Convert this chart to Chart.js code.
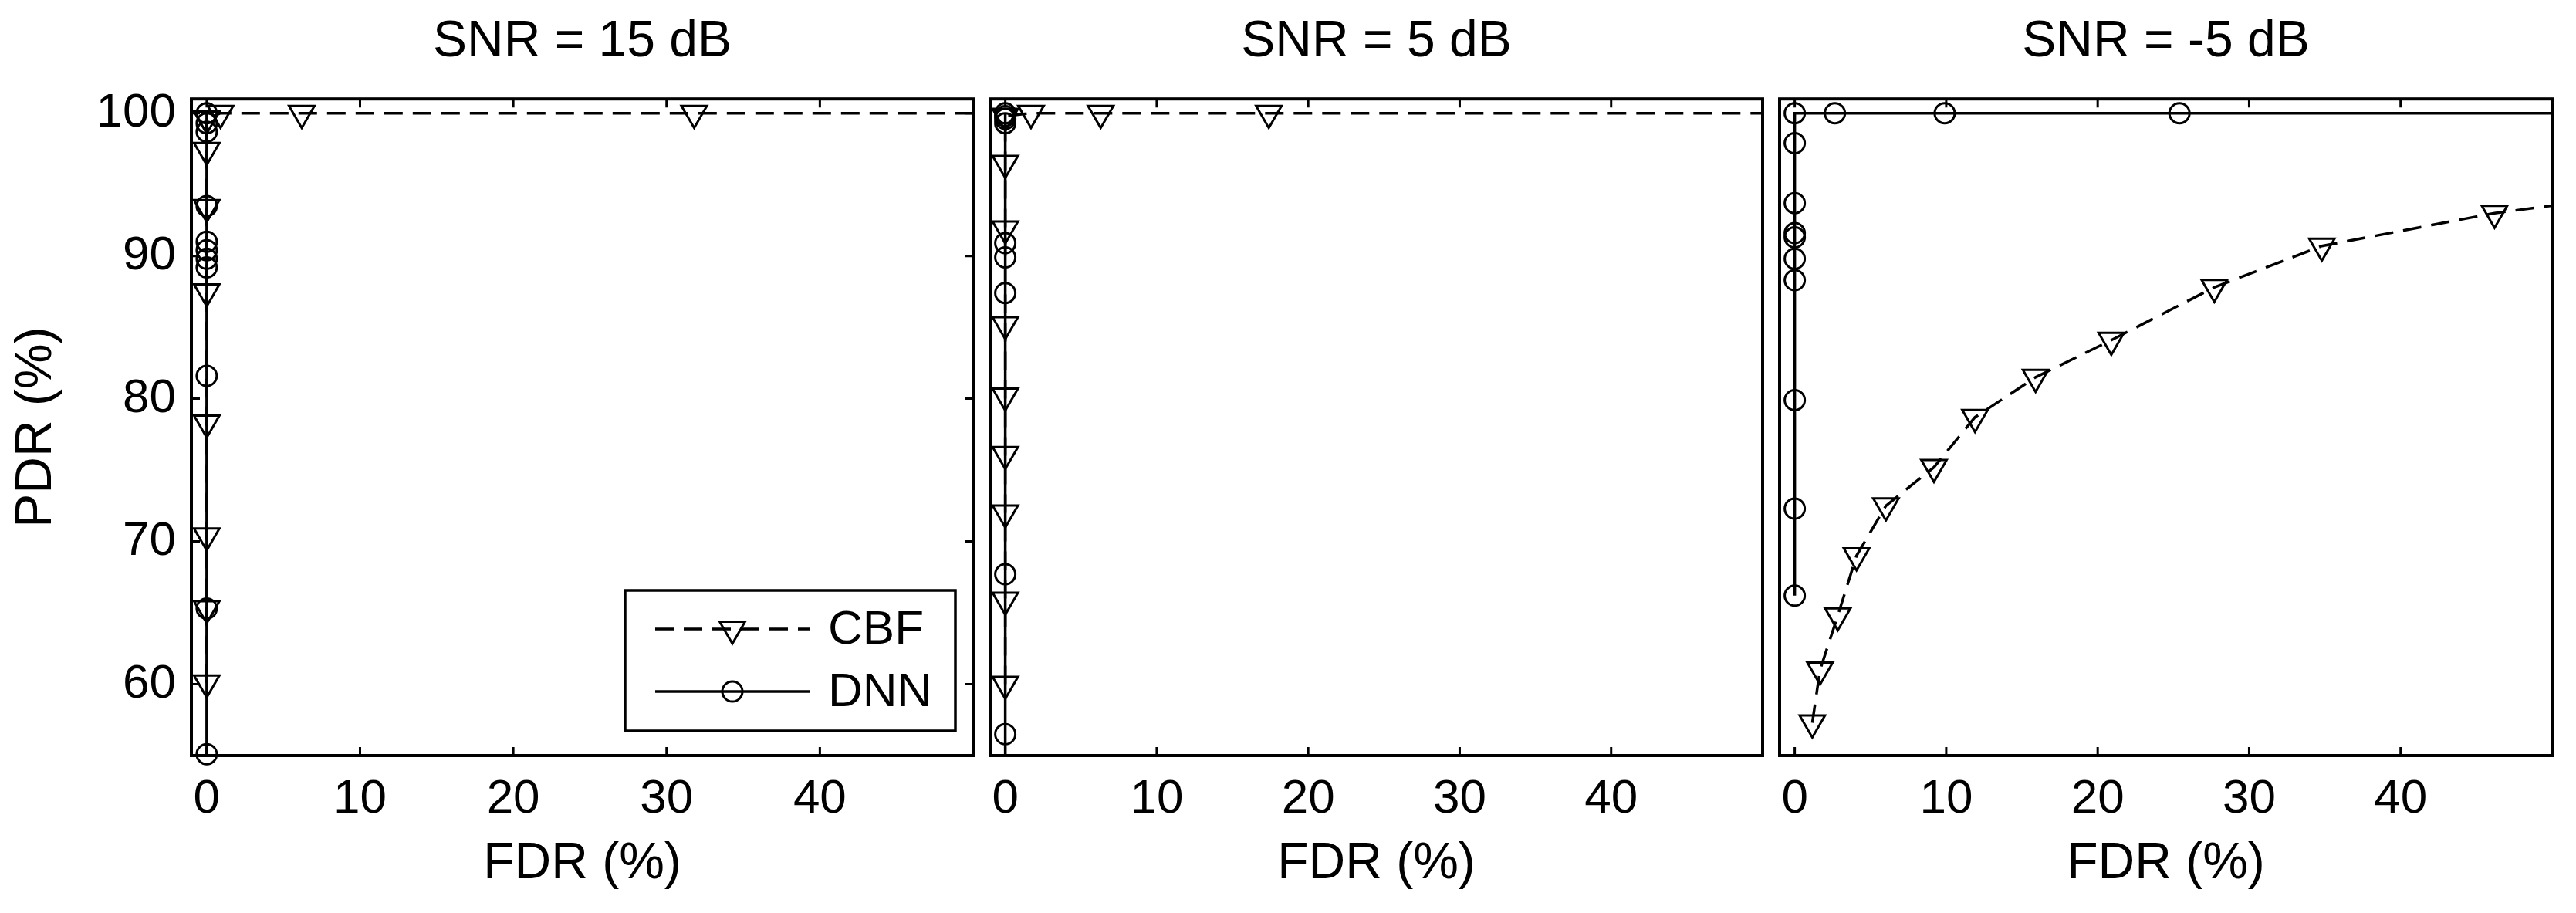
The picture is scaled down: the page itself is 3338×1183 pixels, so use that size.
<!DOCTYPE html>
<html>
<head>
<meta charset="utf-8">
<script src="https://cdn.jsdelivr.net/npm/chart.js@4.4.0/dist/chart.umd.min.js"></script>
<style>
  html, body { margin: 0; padding: 0; background: #fff; }
  #wrap { position: relative; width: 3338px; height: 1183px; overflow: hidden; background: #fff; }
  #wrap canvas { position: absolute; top: 0; }
</style>
</head>
<body>
<div id="wrap"></div>
<script>
// axes
const fdrTicks = [0, 10, 20, 30, 40]
const pdrTicks = [60, 70, 80, 90, 100]
const titles = ['SNR = 15 dB', 'SNR = 5 dB', 'SNR = -5 dB']
const seriesNames = ['CBF', 'DNN']

// SNR = 15 dB
const cbf15Fdr = [0, 0, 0, 0, 0, 0, 0, 0, 0.9, 6.2, 31.8, 60]
const cbf15Pdr = [60.1, 65.3, 70.4, 78.3, 87.5, 93.4, 97.4, 99.6, 100, 100, 100, 100]
const dnn15Fdr = [0, 0, 0, 0, 0, 0, 0, 0, 0, 0, 0]
const dnn15Pdr = [55.1, 65.3, 81.6, 89.2, 89.8, 90.4, 91.0, 93.5, 98.7, 99.3, 100]

// SNR = 5 dB
const cbf5Fdr = [0, 0, 0, 0, 0, 0, 0, 0, 0, 1.7, 6.3, 17.4, 60]
const cbf5Pdr = [60.0, 65.9, 72.0, 76.1, 80.2, 85.2, 91.9, 96.5, 99.8, 100, 100, 100, 100]
const dnn5Fdr = [0, 0, 0, 0, 0, 0, 0, 0, 0, 0]
const dnn5Pdr = [50, 56.5, 67.7, 87.4, 89.9, 90.9, 99.3, 99.6, 99.8, 100]

// SNR = -5 dB
const cbfM5Fdr = [1.16, 1.67, 2.84, 4.08, 6.02, 9.19, 11.9, 15.9, 20.9, 27.7, 34.8, 46.2, 60]
const cbfM5Pdr = [57.3, 61.0, 64.8, 69.0, 72.5, 75.2, 78.7, 81.5, 84.1, 87.8, 90.7, 93.0, 94.9]
const dnnM5Fdr = [0, 0, 0, 0, 0, 0, 0, 0, 0, 0, 2.65, 9.9, 25.4, 60]
const dnnM5Pdr = [66.2, 72.3, 79.9, 88.3, 89.8, 91.3, 91.6, 93.7, 97.9, 100, 100, 100, 100, 100]

Chart.defaults.font.family = "'Liberation Sans', Arial, Helvetica, sans-serif"
Chart.defaults.color = '#000'

const tickFont = {size: 62, weight: 'normal'}
const labelFont = {size: 66, weight: 'normal'}

// plot boxes (pixels on the page)
const plotLeft = [248, 1271, 2294]
const plotWidth = 1025
const pad = 10

function toPoints(xs, ys){
    return xs.map((x, i) => ({x: x, y: ys[i]}))
}

const panels = [
    {cbf: toPoints(cbf15Fdr, cbf15Pdr), dnn: toPoints(dnn15Fdr, dnn15Pdr), yAxis: true, legend: true, clipBottom: 20},
    {cbf: toPoints(cbf5Fdr, cbf5Pdr), dnn: toPoints(dnn5Fdr, dnn5Pdr), yAxis: false, legend: false, clipBottom: 0},
    {cbf: toPoints(cbfM5Fdr, cbfM5Pdr), dnn: toPoints(dnnM5Fdr, dnnM5Pdr), yAxis: false, legend: false, clipBottom: 20}
]

// box + inward tick marks, like the matlab axes
const framePlugin = {
    id: 'frame',
    afterDraw(chart, args, opts){
        const ctx = chart.ctx
        const a = chart.chartArea
        const sx = chart.scales.x
        const sy = chart.scales.y
        ctx.save()
        ctx.strokeStyle = '#000'
        ctx.lineWidth = 3
        ctx.beginPath()
        fdrTicks.forEach(v => {
            const x = sx.getPixelForValue(v)
            ctx.moveTo(x, a.top); ctx.lineTo(x, a.top + 11)
            ctx.moveTo(x, a.bottom); ctx.lineTo(x, a.bottom - 11)
        })
        if(opts.yTicks){
            pdrTicks.forEach(v => {
                const y = sy.getPixelForValue(v)
                ctx.moveTo(a.left, y); ctx.lineTo(a.left + 11, y)
                ctx.moveTo(a.right, y); ctx.lineTo(a.right - 11, y)
            })
        }
        ctx.stroke()
        ctx.lineWidth = 4
        ctx.strokeRect(a.left, a.top, a.right - a.left, a.bottom - a.top)
        ctx.restore()
    }
}

// legend box drawn from the dataset styles
function markerAt(ctx, ds, x, y){
    const o = {pointStyle: ds.pointStyle, rotation: ds.rotation || 0, radius: ds.pointRadius, borderWidth: ds.pointBorderWidth}
    ctx.setLineDash([])
    ctx.fillStyle = 'rgba(0,0,0,0)'
    ctx.lineWidth = ds.pointBorderWidth
    if(Chart.helpers && Chart.helpers.drawPoint){
        Chart.helpers.drawPoint(ctx, o, x, y)
        return
    }
    ctx.beginPath()
    if(ds.pointStyle === 'circle'){
        ctx.arc(x, y, ds.pointRadius, 0, Math.PI * 2)
    } else {
        let r = (o.rotation) * Math.PI / 180
        for(let k = 0; k < 3; k++){
            const px = x + Math.sin(r) * o.radius, py = y - Math.cos(r) * o.radius
            k ? ctx.lineTo(px, py) : ctx.moveTo(px, py)
            r += Math.PI * 2 / 3
        }
        ctx.closePath()
    }
    ctx.stroke()
}

const legendPlugin = {
    id: 'matlabLegend',
    afterDraw(chart, args, opts){
        if(!opts.show) return
        const ctx = chart.ctx
        const box = {x: 810, y: 765, w: 428, h: 182}
        const rows = [815, 896]
        ctx.save()
        ctx.fillStyle = '#fff'
        ctx.fillRect(box.x, box.y, box.w, box.h)
        ctx.strokeStyle = '#000'
        ctx.lineWidth = 3.5
        ctx.strokeRect(box.x, box.y, box.w, box.h)
        chart.data.datasets.forEach((ds, i) => {
            const y = rows[i]
            ctx.strokeStyle = ds.borderColor
            ctx.lineWidth = ds.borderWidth
            ctx.setLineDash(ds.borderDash || [])
            ctx.beginPath()
            ctx.moveTo(849, y); ctx.lineTo(1049, y)
            ctx.stroke()
            markerAt(ctx, ds, 949, y)
            ctx.fillStyle = '#000'
            ctx.font = "normal 62px 'Liberation Sans', Arial, sans-serif"
            ctx.textBaseline = 'middle'
            ctx.textAlign = 'left'
            ctx.fillText(ds.label, 1073, y + 2)
        })
        ctx.restore()
    }
}

const wrap = document.getElementById('wrap')

panels.forEach((p, i) => {
    const leftSpace = p.yAxis ? plotLeft[i] : pad
    const canvas = document.createElement('canvas')
    const w = leftSpace + plotWidth + pad
    canvas.width = w
    canvas.height = 1183
    canvas.style.width = w + 'px'
    canvas.style.height = '1183px'
    canvas.style.left = (plotLeft[i] - leftSpace) + 'px'
    wrap.appendChild(canvas)

    const clip = {left: 20, top: 20, right: 0, bottom: p.clipBottom}

    new Chart(canvas, {
        type: 'line',
        data: {
            datasets: [
                {
                    label: seriesNames[0],
                    data: p.cbf,
                    borderColor: '#000',
                    borderWidth: 3.5,
                    borderDash: [24, 13],
                    pointStyle: 'triangle',
                    rotation: 180,
                    pointRadius: 19,
                    pointBorderWidth: 3,
                    pointBorderColor: '#000',
                    pointBackgroundColor: 'rgba(0,0,0,0)',
                    tension: 0,
                    clip: clip,
                    order: 1
                },
                {
                    label: seriesNames[1],
                    data: p.dnn,
                    borderColor: '#000',
                    borderWidth: 3.5,
                    pointStyle: 'circle',
                    pointRadius: 13,
                    pointBorderWidth: 3,
                    pointBorderColor: '#000',
                    pointBackgroundColor: 'rgba(0,0,0,0)',
                    tension: 0,
                    clip: clip,
                    order: 0
                }
            ]
        },
        options: {
            responsive: false,
            animation: false,
            devicePixelRatio: 1,
            layout: {padding: {left: p.yAxis ? 0 : pad, right: pad, top: 0, bottom: 0}},
            plugins: {
                legend: {display: false},
                tooltip: {enabled: false},
                title: {
                    display: true,
                    text: titles[i],
                    fullSize: false,
                    font: labelFont,
                    color: '#000',
                    padding: {top: 15, bottom: 34}
                },
                frame: {yTicks: p.yAxis},
                matlabLegend: {show: p.legend}
            },
            scales: {
                x: {
                    type: 'linear',
                    min: -1,
                    max: 50,
                    grid: {display: false, drawTicks: false},
                    border: {display: false},
                    afterBuildTicks: s => { s.ticks = fdrTicks.map(v => ({value: v})) },
                    afterFit: s => { s.height = 204 },
                    ticks: {font: tickFont, padding: 20, maxRotation: 0, autoSkip: false, color: '#000'},
                    title: {display: true, text: 'FDR (%)', font: labelFont, color: '#000', padding: {top: 0, bottom: 24}}
                },
                y: {
                    type: 'linear',
                    min: 55,
                    max: 101,
                    display: p.yAxis,
                    grid: {display: false, drawTicks: false},
                    border: {display: false},
                    afterBuildTicks: s => { s.ticks = pdrTicks.map(v => ({value: v})) },
                    afterFit: s => { if(p.yAxis) s.width = plotLeft[0] },
                    ticks: {font: tickFont, padding: 20, color: '#000'},
                    title: {display: true, text: 'PDR (%)', font: labelFont, color: '#000', padding: {top: 8, bottom: 0}}
                }
            }
        },
        plugins: [framePlugin, legendPlugin]
    })
})
</script>
</body>
</html>
